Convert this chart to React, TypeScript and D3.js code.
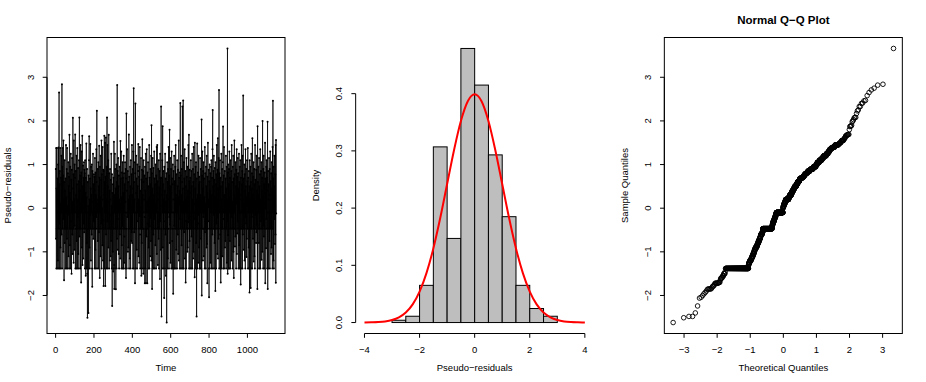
import * as d3 from "d3";

// pseudo-residuals, index 1..1150 (rows of 50)
const residuals = [
  0.9, -0.7, 1.38, -1.38, 0.45, -0.47, 1.38, -0.1, -1.38, 0.68, 0.2, -1.2, 1.0, -0.47, 1.39, -1.38, 0.8, 2.65, -0.35, 0.55, -1.38, 0.85, -0.47, 1.38, -0.9, 0.1, -1.38, 0.7, -0.1, 1.2, -0.6, 0.3, 2.84, -1.38, 0.95, -0.47, 1.38, -0.1, 0.75, -1.0, 1.55, -0.25, 0.2, -1.65, 0.6, -0.47, 1.1, -0.8, 0.4, -0.1,
  -1.38, 0.68, -0.47, 1.45, -0.1, 0.25, -1.38, 0.9, -0.7, 1.38, -0.47, 0.05, -1.38, 0.8, -0.15, 1.05, -1.1, 0.5, -0.1, 0.72, -1.38, 1.68, -0.47, 0.35, -0.85, 0.95, 0.2, -1.38, 1.25, -0.3, -0.47, 0.65, -1.5, 0.88, -0.1, 1.15, -0.6, 0.15, -1.05, 2.07, 0.45, -0.47, 0.78, -1.25, 1.55, -0.1, 0.2, -0.95, 1.0, -0.4,
  0.7, 1.69, -1.38, -0.47, 0.85, -0.1, 0.3, -1.38, 1.2, -0.75, 0.55, -0.47, 1.38, -1.38, 0.2, -0.2, 0.92, -1.05, -0.1, 0.62, -1.38, 1.1, -0.47, 2.08, -0.65, 0.4, -0.1, 0.75, -1.38, 1.45, -0.47, 0.1, -1.7, 0.82, -0.1, 1.3, -0.9, 0.2, 1.66, -1.3, 0.5, -0.47, 0.98, -1.15, 0.02, 0.7, -0.35, 1.05, -0.55, 0.88,
  -0.47, 0.8, -1.38, 1.1, -0.1, 0.35, -1.55, 0.7, -0.47, 1.48, -1.38, 0.25, -0.8, 0.9, -1.5, -2.51, 0.6, -0.1, -1.38, 0.05, -2.4, 0.75, -0.47, 1.1, 1.65, -0.9, 0.2, -1.38, 0.68, -0.15, 1.47, -0.47, 0.45, -1.2, 0.95, -0.1, 0.3, -0.6, 1.0, -1.38, -1.8, 0.85, -0.47, 0.15, 1.25, -0.1, -0.7, 0.55, -0.3, 0.78,
  -0.47, 0.72, -1.38, 0.4, 1.15, -0.1, -0.95, 0.82, -1.38, 0.3, -0.47, 1.35, -0.2, 0.6, 2.23, -1.38, 0.1, -0.1, 0.9, -0.75, 0.2, -0.47, 1.05, -1.38, 0.5, -0.55, 1.43, -0.1, 0.7, -1.6, 0.95, -0.47, 0.25, -1.1, 1.2, -0.1, 0.65, -0.35, 1.55, -1.38, 0.78, -0.47, 0.0, -0.85, 1.4, 0.2, -1.2, 0.88, -0.28, -1.78,
  0.85, -0.47, 0.3, 1.66, -1.38, 0.6, -0.1, 1.5, -1.78, 0.72, -0.47, 1.62, -0.6, 0.2, -1.38, 0.95, -0.1, 2.08, -0.3, 1.45, -1.38, 0.5, -0.47, 1.1, -0.9, 0.15, 1.68, -0.1, -1.38, 0.8, -0.47, 0.4, -1.2, 0.9, 0.2, -0.15, -1.1, 0.65, -0.75, 1.25, -0.47, 0.05, -1.38, 0.78, -2.24, 0.35, -0.1, -1.0, 0.55, -1.45,
  -1.38, 0.7, -0.47, 1.52, -1.3, -1.85, 0.3, -0.1, 1.25, -1.38, 0.9, -0.47, 0.45, -1.86, 0.2, -0.1, 1.0, -1.38, 0.6, -0.7, 2.82, -0.47, 0.85, -0.95, -0.25, 1.15, -0.1, 0.5, -1.05, 0.75, -1.38, 0.2, -0.47, 0.95, -0.6, 0.1, -1.15, 1.54, -0.1, 0.68, -0.47, 1.3, -1.38, 0.25, -0.85, 0.82, -0.1, -0.4, 1.05, -1.38,
  0.7, -0.47, 0.35, -1.38, 1.2, -0.1, 0.8, -1.25, -0.65, 0.55, -0.47, 1.05, -1.38, 0.15, 0.9, -0.1, -1.6, 0.68, 2.17, -0.47, -1.38, 0.4, 1.35, -0.2, -0.1, 0.85, -1.0, 0.6, -0.9, 0.2, -0.47, 1.69, -1.38, 0.72, -0.1, 0.28, -1.15, 0.95, -0.47, 0.5, -1.38, 1.1, 0.05, 0.05, -0.75, 0.78, -0.55, 1.45, -0.8, 0.3,
  -0.47, 0.9, -1.38, 0.45, 1.3, -0.1, 2.75, -1.38, 0.6, -0.55, 0.2, -0.47, 1.05, -1.72, 0.8, 2.4, -0.1, -1.38, 0.35, 1.2, -0.47, 0.68, -0.95, 0.1, -1.38, 1.0, -0.1, 0.5, -0.3, 0.85, 1.47, -1.1, 0.2, -0.47, 0.72, -1.25, 0.95, -0.18, 1.4, -0.6, -1.38, 0.4, -0.47, 0.02, 1.15, -0.1, -1.55, 0.65, -0.8, 0.88,
  -1.38, 1.58, -0.47, 0.3, -0.1, 0.85, -1.5, 0.6, 1.1, -0.47, -1.38, 0.2, 0.75, -0.2, -1.72, 0.95, -0.1, 0.4, -1.38, 1.25, -1.72, 0.68, -0.47, -0.65, 1.35, -0.1, 0.15, -1.72, 0.82, -0.35, -0.47, 1.05, -1.38, 0.5, -0.9, 0.2, -0.1, 1.45, -1.38, 0.7, -0.42, 0.25, -1.1, 0.9, -0.22, 0.55, -0.75, 1.2, -1.2, 1.9,
  -0.47, 0.8, -1.85, 0.45, -1.38, 1.15, -0.1, 0.3, -0.6, 0.92, -1.38, 0.2, -0.47, 1.3, -0.25, 0.68, -1.38, -0.1, 0.55, -0.85, 1.0, -0.47, 0.1, -1.38, 0.75, -0.1, 1.4, -1.05, 0.35, 1.45, -0.47, 0.62, -1.3, 0.2, 0.9, -0.1, -0.7, 1.1, -1.38, 0.48, -0.47, 0.85, -0.15, -1.62, 1.25, -0.3, 0.7, -0.95, 0.05, 2.33,
  -0.47, -2.48, 0.7, -1.38, 0.3, 1.1, -0.1, 1.88, -0.9, 0.55, -1.38, 0.85, -0.47, 0.2, -0.3, -2.06, 0.95, -0.1, 0.4, -1.38, 1.25, -0.47, -0.6, 0.68, -1.55, 0.15, -0.1, 0.8, -2.62, 0.3, -0.47, 1.05, -1.38, 0.6, -1.15, 0.9, -0.1, 0.2, 1.4, -0.47, -1.38, 0.75, -0.2, 1.8, -0.8, 0.45, -0.38, 1.15, -1.25, 0.5,
  -0.47, 0.9, -1.38, 0.35, 1.3, -0.1, 0.68, -0.75, -1.38, 0.55, 1.0, -0.47, -1.96, 0.2, 0.85, -0.1, -1.38, 1.2, -0.4, 0.62, -1.38, 0.1, -0.47, 0.95, -0.1, 1.45, -1.38, 0.3, -0.95, 0.78, -0.47, 0.2, -1.38, 1.1, -0.1, 0.5, -0.6, 0.88, -1.05, 0.25, -0.47, 1.55, -1.2, 0.7, 0.08, 0.4, -1.38, 0.82, -0.25, 2.41,
  -0.47, 0.75, -1.38, 1.2, -0.1, 0.3, -0.85, 0.9, -1.38, 0.6, 2.33, -0.47, 0.45, -1.38, 2.47, -0.1, 0.15, -1.38, 1.05, -0.55, 0.68, -0.47, 1.35, -1.15, 0.2, -0.1, 0.85, -1.7, 0.5, -0.3, -1.38, 1.15, -0.47, 0.72, -0.1, 0.25, -1.0, 0.95, -0.9, 0.4, -0.47, 1.45, 0.05, -0.32, 1.68, -1.38, 0.62, -0.75, 0.88, -0.2,
  -1.38, 0.7, -0.47, 0.35, 1.1, -0.1, -1.38, 0.85, -0.65, 0.5, -0.47, 1.25, -1.38, 0.2, -0.1, 0.9, -1.15, 0.6, -1.0, 1.4, -0.47, 0.1, 0.78, -0.1, -1.58, 1.5, -0.25, 0.45, -1.38, 0.95, -0.47, 1.05, -0.8, 0.2, -2.48, 0.68, -0.1, 1.48, -1.38, 0.3, -0.47, 0.82, -0.35, -1.25, 1.2, -0.15, 0.55, -0.9, 0.72, -1.38,
  0.6, -0.47, 1.15, -1.38, 0.3, -0.1, 0.9, -0.7, 0.2, -1.38, 2.03, -2.0, 0.75, -0.47, 1.3, -0.1, 0.45, -1.2, 0.85, -0.2, 1.05, -0.47, -1.1, 0.68, -0.1, 0.25, -1.38, 1.4, -0.55, 0.8, -0.47, 0.1, -1.38, 0.95, -0.42, 0.5, -0.9, 1.2, -0.82, 0.35, -1.72, 0.72, -0.47, 1.5, -0.3, 0.2, 0.02, 0.88, -1.38, -2.04,
  0.62, -0.47, 1.0, -1.38, 0.4, -0.1, 0.8, -1.25, 0.2, 0.95, -0.47, 1.1, -1.38, 0.3, -0.1, 0.7, -0.6, 1.35, 2.25, -1.38, 0.5, -0.47, 0.85, -0.15, 1.2, 0.12, -1.38, 0.65, -0.8, 0.92, -0.47, 0.25, -1.9, 1.05, -0.1, 0.55, -1.38, 0.78, -0.35, 1.45, -0.47, 0.2, -1.05, 0.88, -0.22, 1.6, -1.15, 0.45, -0.7, 1.15,
  -0.47, 2.71, -1.38, 0.8, -0.1, 0.35, 1.1, -0.6, -1.38, 0.7, -1.7, 0.5, -0.47, 1.25, -1.38, 0.2, -0.1, 0.9, -1.1, 0.6, -0.47, 1.05, 1.87, -1.38, -0.25, 0.75, -0.1, 1.4, -1.38, 0.3, -0.47, 0.85, -0.9, 0.15, -0.75, 0.68, -0.1, 1.2, -1.38, 0.45, -0.47, 0.95, -1.25, 0.2, -0.3, 3.66, -1.5, 0.82, -0.62, 1.0,
  -1.38, 0.55, -0.47, 0.9, -1.38, 1.3, -0.1, 0.25, -0.75, 0.7, -1.38, 1.1, -0.47, 0.4, -0.1, 0.85, -1.2, 1.45, -0.2, 0.6, -0.47, 0.15, -1.38, 0.95, -0.1, 1.2, -1.0, 0.68, -1.6, 0.3, -0.47, 1.55, -0.1, 0.78, -0.88, 0.2, -0.65, 1.05, -0.47, 0.5, -1.38, 0.88, 0.1, 1.35, -1.05, 0.35, -0.58, 0.72, -0.3, 1.15,
  -0.47, 0.8, -1.38, 0.45, -0.1, 1.25, -0.85, 0.6, -1.38, 0.95, 0.2, -0.47, 1.1, -0.1, -1.75, 0.7, -1.38, 0.3, 1.45, -0.47, 0.55, -0.1, 0.85, -1.38, 1.2, -0.6, 0.2, 2.58, -0.47, 0.68, -0.95, 0.1, -0.1, 1.0, -1.2, 0.78, -0.47, 0.4, -1.38, 1.35, -0.2, 0.5, -0.35, 0.9, -1.12, 0.25, -0.7, 1.1, 0.05, 0.62,
  -0.47, 1.38, -1.38, 0.7, -0.1, 0.35, -0.9, 0.85, -1.38, 0.5, -1.93, 1.1, -0.47, 0.2, -0.1, 0.95, -1.83, 0.6, -1.38, 1.25, -0.47, 0.45, -0.2, 0.8, -1.38, 1.6, -0.1, 0.3, -0.7, 0.72, -0.47, 1.05, -1.22, 0.2, -0.1, 0.9, -1.1, 0.55, -1.38, 1.45, -0.47, 0.65, -0.15, 0.15, -0.8, 0.88, -0.55, 1.2, -0.38, 0.4,
  -0.1, -1.85, 1.88, -1.38, 0.6, -0.47, 0.95, -0.1, 0.3, -0.8, 1.15, -1.38, 0.5, -0.47, 0.78, -0.1, 1.35, -1.38, 0.2, -0.3, 0.85, -0.47, 1.05, -1.18, 0.4, -0.1, 0.7, -1.0, 2.0, -0.47, 0.25, -1.38, 0.9, -0.4, 1.2, -0.65, 0.55, -1.38, 0.1, 0.82, -0.47, 1.5, -1.72, 0.68, 0.0, 0.35, -0.92, 0.95, -0.25, 1.1,
  -0.47, 0.7, -1.38, 0.4, 1.98, -1.85, -0.1, 0.85, -1.38, 0.55, 0.2, -0.47, 1.15, -0.1, -0.75, 0.9, -1.38, 0.3, 1.3, -0.47, 0.62, -0.1, -1.05, 0.8, 0.2, -0.9, 1.05, -0.47, 0.45, -1.38, 1.4, -0.1, 2.46, -0.47, 0.68, -1.2, 0.95, -1.38, 0.25, -0.1, 1.2, -0.25, 0.5, -0.82, 0.78, -0.6, 1.45, -1.71, 1.56, -0.12,
];

const histBreaks = [-3, -2.5, -2, -1.5, -1, -0.5, 0, 0.5, 1, 1.5, 2, 2.5, 3];
const histDensity = [0.004, 0.011, 0.065, 0.307, 0.147, 0.479, 0.415, 0.293, 0.185, 0.065, 0.0245, 0.011];

// standard normal density, read at steps of 0.25
const normX = [-4, -3.75, -3.5, -3.25, -3, -2.75, -2.5, -2.25, -2, -1.75, -1.5, -1.25, -1, -0.75, -0.5, -0.25, 0, 0.25, 0.5, 0.75, 1, 1.25, 1.5, 1.75, 2, 2.25, 2.5, 2.75, 3, 3.25, 3.5, 3.75, 4];
const normY = [0.0001, 0.0004, 0.0009, 0.002, 0.0044, 0.0091, 0.0175, 0.0317, 0.054, 0.0863, 0.1295, 0.1826, 0.242, 0.3011, 0.3521, 0.3867, 0.3989, 0.3867, 0.3521, 0.3011, 0.242, 0.1826, 0.1295, 0.0863, 0.054, 0.0317, 0.0175, 0.0091, 0.0044, 0.002, 0.0009, 0.0004, 0.0001];

const timeTicks = [0, 200, 400, 600, 800, 1000];
const residTicks = [-2, -1, 0, 1, 2, 3];
const densityTicks = [0, 0.1, 0.2, 0.3, 0.4];
const histTicks = [-4, -2, 0, 2, 4];
const qqTicks = [-3, -2, -1, 0, 1, 2, 3];

const W = 926;
const H = 382;
const PW = W / 3;
const TOP = 37.5;
const BOTTOM = 333.5;
const FONT = "'Liberation Sans', Arial, Helvetica, sans-serif";
const TCL = 4.3;

// like R: widen range by 4%
function rlim(a: number, b: number): [number, number] {
  const d = (b - a) * 0.04;
  return [a - d, b + d];
}

// inverse normal cdf (Acklam)
function qnorm(p: number) {
  const a = [-39.69683028665376, 220.9460984245205, -275.9285104469687, 138.357751867269, -30.66479806614716, 2.506628277459239];
  const b = [-54.47609879822406, 161.5858368580409, -155.6989798598866, 66.80131188771972, -13.28068155288572];
  const c = [-0.007784894002430293, -0.3223964580411365, -2.400758277161838, -2.549732539343734, 4.374664141464968, 2.938163982698783];
  const d = [0.007784695709041462, 0.3224671290700398, 2.445134137142996, 3.754408661907416];
  const plow = 0.02425;
  if (p < plow) {
    const q = Math.sqrt(-2 * Math.log(p));
    return (((((c[0] * q + c[1]) * q + c[2]) * q + c[3]) * q + c[4]) * q + c[5]) / ((((d[0] * q + d[1]) * q + d[2]) * q + d[3]) * q + 1);
  }
  if (p > 1 - plow) {
    const q = Math.sqrt(-2 * Math.log(1 - p));
    return -(((((c[0] * q + c[1]) * q + c[2]) * q + c[3]) * q + c[4]) * q + c[5]) / ((((d[0] * q + d[1]) * q + d[2]) * q + d[3]) * q + 1);
  }
  const q = p - 0.5;
  const r = q * q;
  return (((((a[0] * r + a[1]) * r + a[2]) * r + a[3]) * r + a[4]) * r + a[5]) * q / (((((b[0] * r + b[1]) * r + b[2]) * r + b[3]) * r + b[4]) * r + 1);
}

const minus = (s: string) => s.replace("-", "\u2212");

function XAxis({ scale, ticks, y, fmt }: any) {
  return (
    <g>
      <line x1={scale(ticks[0])} x2={scale(ticks[ticks.length - 1])} y1={y} y2={y} stroke="black" />
      {ticks.map((t: number) => (
        <g key={t}>
          <line x1={scale(t)} x2={scale(t)} y1={y} y2={y + TCL} stroke="black" />
          <text x={scale(t)} y={y + 19} textAnchor="middle" fontSize={9.5}>
            {minus(fmt(t))}
          </text>
        </g>
      ))}
    </g>
  );
}

function YAxis({ scale, ticks, x, fmt }: any) {
  return (
    <g>
      <line x1={x} x2={x} y1={scale(ticks[0])} y2={scale(ticks[ticks.length - 1])} stroke="black" />
      {ticks.map((t: number) => (
        <g key={t}>
          <line x1={x} x2={x - TCL} y1={scale(t)} y2={scale(t)} stroke="black" />
          <text
            transform={`translate(${x - 13.5},${scale(t)}) rotate(-90)`}
            textAnchor="middle"
            fontSize={9.5}
          >
            {minus(fmt(t))}
          </text>
        </g>
      ))}
    </g>
  );
}

export default function App() {
  const n = residuals.length;
  const x0 = [0, 1, 2].map((k) => k * PW + 47);
  const x1 = [0, 1, 2].map((k) => k * PW + 285);

  const [rmin, rmax] = d3.extent(residuals) as [number, number];
  const yRes = d3.scaleLinear().domain(rlim(rmin, rmax)).range([BOTTOM, TOP]);

  // panel 1: time series
  const xTime = d3.scaleLinear().domain(rlim(1, n)).range([x0[0], x1[0]]);
  const tsLine = d3
    .line<number>()
    .x((_, i) => xTime(i + 1))
    .y((v) => yRes(v))(residuals);

  // panel 2: histogram
  const xHist = d3.scaleLinear().domain(rlim(-4, 4)).range([x0[1], x1[1]]);
  const yHist = d3.scaleLinear().domain(rlim(0, d3.max(histDensity) as number)).range([BOTTOM, TOP]);
  const normLine = d3
    .line<number>()
    .x((_, i) => xHist(normX[i]))
    .y((v) => yHist(v))
    .curve(d3.curveMonotoneX)(normY);

  // panel 3: normal Q-Q
  const sorted = residuals.slice().sort(d3.ascending);
  const theo = sorted.map((_, i) => qnorm((i + 0.5) / n));
  const xQQ = d3.scaleLinear().domain(rlim(theo[0], theo[n - 1])).range([x0[2], x1[2]]);

  const intFmt = (t: number) => String(t);
  const dFmt = d3.format(".1f");

  return (
    <svg
      width={W}
      height={H}
      style={{ position: "absolute", left: 0, top: 0, background: "white", display: "block" }}
      fontFamily={FONT}
    >
      {/* time series */}
      <path d={tsLine || ""} fill="none" stroke="black" strokeWidth={0.75} />
      {residuals.map((v, i) => (
        <circle key={i} cx={xTime(i + 1)} cy={yRes(v)} r={1} fill="black" />
      ))}
      <rect x={x0[0]} y={TOP} width={x1[0] - x0[0]} height={BOTTOM - TOP} fill="none" stroke="black" />
      <XAxis scale={xTime} ticks={timeTicks} y={BOTTOM} fmt={intFmt} />
      <YAxis scale={yRes} ticks={residTicks} x={x0[0]} fmt={intFmt} />
      <text x={(x0[0] + x1[0]) / 2} y={371} textAnchor="middle" fontSize={9.5}>Time</text>
      <text transform={`translate(${x0[0] - 36.5},${(TOP + BOTTOM) / 2}) rotate(-90)`} textAnchor="middle" fontSize={9.5}>
        {"Pseudo\u2212residuals"}
      </text>

      {/* histogram */}
      {histDensity.map((dv, i) => (
        <rect
          key={i}
          x={xHist(histBreaks[i])}
          y={yHist(dv)}
          width={xHist(histBreaks[i + 1]) - xHist(histBreaks[i])}
          height={yHist(0) - yHist(dv)}
          fill="#BEBEBE"
          stroke="black"
          strokeWidth={1}
        />
      ))}
      <path d={normLine || ""} fill="none" stroke="#FF0000" strokeWidth={2} />
      <XAxis scale={xHist} ticks={histTicks} y={BOTTOM} fmt={intFmt} />
      <YAxis scale={yHist} ticks={densityTicks} x={x0[1]} fmt={dFmt} />
      <text x={(x0[1] + x1[1]) / 2} y={371} textAnchor="middle" fontSize={9.5}>
        {"Pseudo\u2212residuals"}
      </text>
      <text transform={`translate(${x0[1] - 36.5},${(TOP + BOTTOM) / 2}) rotate(-90)`} textAnchor="middle" fontSize={9.5}>
        Density
      </text>

      {/* Q-Q */}
      {sorted.map((v, i) => (
        <circle key={i} cx={xQQ(theo[i])} cy={yRes(v)} r={2.3} fill="none" stroke="black" strokeWidth={0.9} />
      ))}
      <rect x={x0[2]} y={TOP} width={x1[2] - x0[2]} height={BOTTOM - TOP} fill="none" stroke="black" />
      <XAxis scale={xQQ} ticks={qqTicks} y={BOTTOM} fmt={intFmt} />
      <YAxis scale={yRes} ticks={residTicks} x={x0[2]} fmt={intFmt} />
      <text x={(x0[2] + x1[2]) / 2} y={371} textAnchor="middle" fontSize={9.5}>Theoretical Quantiles</text>
      <text transform={`translate(${x0[2] - 36.5},${(TOP + BOTTOM) / 2}) rotate(-90)`} textAnchor="middle" fontSize={9.5}>
        Sample Quantiles
      </text>
      <text x={(x0[2] + x1[2]) / 2} y={23.5} textAnchor="middle" fontSize={11.5} fontWeight="bold">
        {"Normal Q\u2212Q Plot"}
      </text>
    </svg>
  );
}
